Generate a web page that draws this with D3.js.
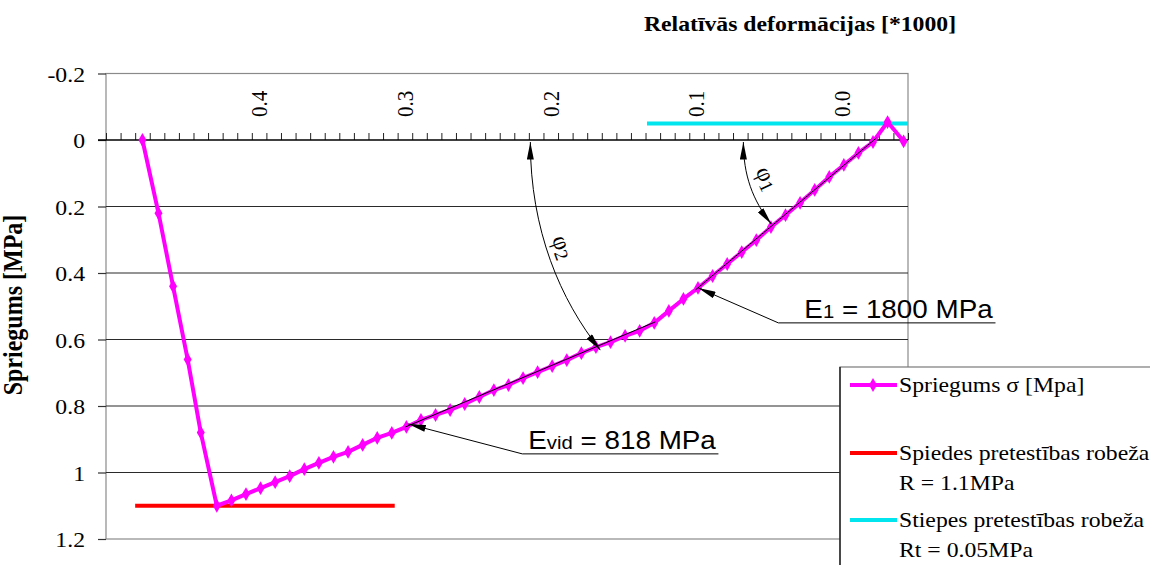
<!DOCTYPE html>
<html>
<head>
<meta charset="utf-8">
<script src="https://cdn.jsdelivr.net/npm/d3@7"></script>
<style>
    body { margin: 0; background: #ffffff; }
    #chart { width: 1150px; height: 565px; }
</style>
</head>
<body>
<div id="chart"></div>
<script>

// measured stress-strain curve (strain in 1/1000, stress in MPa, compression positive)
const strainValues = [
    0.480, 0.469, 0.459, 0.449, 0.440, 0.429, 0.419, 0.409, 0.399, 0.389,
    0.379, 0.369, 0.359, 0.349, 0.339, 0.329, 0.319, 0.309, 0.299, 0.289,
    0.279, 0.269, 0.259, 0.249, 0.239, 0.229, 0.219, 0.209, 0.199, 0.189,
    0.179, 0.169, 0.159, 0.149, 0.139, 0.129, 0.119, 0.109, 0.099, 0.089,
    0.079, 0.069, 0.059, 0.049, 0.039, 0.029, 0.019, 0.009, -0.001, -0.011,
    -0.021, -0.031, -0.042
];
const stressValues = [
    0.00, 0.22, 0.44, 0.66, 0.88, 1.10, 1.084, 1.065, 1.047, 1.029,
    1.011, 0.990, 0.971, 0.953, 0.938, 0.917, 0.896, 0.881, 0.863, 0.842,
    0.827, 0.812, 0.794, 0.773, 0.752, 0.737, 0.716, 0.698, 0.680, 0.662,
    0.641, 0.623, 0.608, 0.589, 0.574, 0.550, 0.514, 0.478, 0.445, 0.409,
    0.373, 0.337, 0.301, 0.262, 0.226, 0.189, 0.150, 0.111, 0.075, 0.039,
    0.006, -0.054, 0.004
];

// strength limits
const compressionLimit = 1.1;
const compressionStrain = [0.485, 0.307];
const tensionLimit = -0.05;
const tensionStrain = [0.134, -0.045];

// axes
const xDomain = [0.505, -0.045];
const yDomain = [-0.2, 1.2];
const xLabelValues = [0.4, 0.3, 0.2, 0.1, 0.0];
const xLabelTexts = ['0.4', '0.3', '0.2', '0.1', '0.0'];
const yTickValues = [-0.2, 0, 0.2, 0.4, 0.6, 0.8, 1, 1.2];
const yTickTexts = ['-0.2', '0', '0.2', '0.4', '0.6', '0.8', '1', '1.2'];
const yGridValues = [0.2, 0.4, 0.6, 0.8, 1];

// annotations, in data units [strain, stress]
const e1Tangent = [[0.1008, 0.451], [-0.0233, -0.006]];
const eVidTangent = [[0.2997, 0.863], [0.1283, 0.547]];
const e1Leader = [[-0.105, 0.550], [0.0439, 0.550], [0.0988, 0.445]];
const eVidLeader = [[0.085, 0.944], [0.2195, 0.944], [0.2977, 0.854]];
const phi1Arc = [[0.0679, 0.006], [0.0679, 0.105], [0.0617, 0.180], [0.0487, 0.253]];
const phi2Arc = [[0.214, 0.006], [0.214, 0.271], [0.1934, 0.481], [0.166, 0.632]];

const legendNames = [
    ['Spriegums σ [Mpa]'],
    ['Spiedes pretestības robeža', 'R = 1.1MPa'],
    ['Stiepes pretestības robeža', 'Rt = 0.05MPa']
];
const legendColors = ['#ff00ff', '#ff0000', '#00e5ee'];

const serif = "'Liberation Serif', 'Times New Roman', serif";
const sans = "'Liberation Sans', Arial, sans-serif";
const stretch = 1.13;

const plot = { left: 106, top: 73.5, right: 908, bottom: 539 };

function createSVG(containerId, width, height) {

    try {

        let svg = d3.select(containerId)
            .append('svg')
            .attr('width', width)
            .attr('height', height)
            .attr('viewBox', '0 0 ' + width + ' ' + height);
        return svg;

    } catch (error) {

        console.log('Function: createSVG. Error: ' + error);
        return null;
    }
}

function addText(g, x, y, txt, size, opts) {

    opts = opts || {};
    let sx = opts.stretch || stretch;
    let t = g.append('text')
        .attr('transform', 'translate(' + x + ',' + y + ') scale(' + sx + ',1)')
        .attr('font-family', opts.family || serif)
        .attr('font-size', size)
        .attr('font-weight', opts.bold ? 'bold' : 'normal')
        .attr('text-anchor', opts.anchor || 'start')
        .attr('dominant-baseline', opts.baseline || 'auto')
        .attr('fill', '#000');
    if (txt !== null) t.text(txt);
    return t;
}

function drawChart(svg) {

    try {

        let x = d3.scaleLinear().domain(xDomain).range([plot.left, plot.right]);
        let y = d3.scaleLinear().domain(yDomain).range([plot.top, plot.bottom]);

        let defs = svg.append('defs');
        defs.append('marker')
            .attr('id', 'arrow')
            .attr('viewBox', '0 0 20 8')
            .attr('refX', 20).attr('refY', 4)
            .attr('markerWidth', 18).attr('markerHeight', 7)
            .attr('markerUnits', 'userSpaceOnUse')
            .attr('orient', 'auto-start-reverse')
            .append('path').attr('d', 'M0,0 L20,4 L0,8 Z').attr('fill', '#000');

        // plot frame
        svg.append('rect')
            .attr('x', plot.left).attr('y', plot.top)
            .attr('width', plot.right - plot.left).attr('height', plot.bottom - plot.top)
            .attr('fill', 'none').attr('stroke', '#8a8a8a').attr('stroke-width', 1.2);

        // gridlines
        svg.append('g').selectAll('line')
            .data(yGridValues).enter()
            .append('line')
            .attr('x1', plot.left).attr('x2', plot.right)
            .attr('y1', d => y(d)).attr('y2', d => y(d))
            .attr('stroke', '#2a2a2a').attr('stroke-width', 1.2);

        // y axis ticks + labels
        let yAxis = d3.axisLeft(y).tickValues(yTickValues).tickSize(8).tickFormat('');
        let gy = svg.append('g').attr('transform', 'translate(' + plot.left + ',0)').call(yAxis);
        gy.select('.domain').remove();
        gy.selectAll('.tick line').attr('stroke', '#333').attr('stroke-width', 1.2);
        yTickValues.forEach((v, i) => {
            addText(svg, 85, y(v) + 1, yTickTexts[i], 21, { anchor: 'end', baseline: 'central' });
        });

        // x axis on stress = 0, ticks upward
        let xAxis = d3.axisTop(x).tickValues(d3.range(-0.045, 0.51, 0.01)).tickSize(7).tickFormat('');
        let gx = svg.append('g').attr('transform', 'translate(0,' + y(0) + ')').call(xAxis);
        gx.select('.domain').remove();
        gx.selectAll('.tick line').attr('stroke', '#222').attr('stroke-width', 1);
        svg.append('line')
            .attr('x1', 98).attr('x2', plot.right)
            .attr('y1', y(0)).attr('y2', y(0))
            .attr('stroke', '#000').attr('stroke-width', 1.3);
        xLabelValues.forEach((v, i) => {
            svg.append('text')
                .attr('transform', 'translate(' + x(v) + ',104) scale(1.1,1) rotate(-90)')
                .attr('font-family', serif).attr('font-size', 21)
                .attr('text-anchor', 'middle').attr('dominant-baseline', 'central')
                .text(xLabelTexts[i]);
        });

        // axis titles
        addText(svg, 800, 31, 'Relatīvās deformācijas [*1000]', 21, { anchor: 'middle', bold: true });
        svg.append('text')
            .attr('transform', 'translate(22,305) scale(1.1,1) rotate(-90)')
            .attr('font-family', serif).attr('font-size', 24).attr('font-weight', 'bold')
            .attr('text-anchor', 'middle')
            .text('Spriegums [MPa]');

        // limit lines
        svg.append('line')
            .attr('x1', x(compressionStrain[0])).attr('x2', x(compressionStrain[1]))
            .attr('y1', y(compressionLimit)).attr('y2', y(compressionLimit))
            .attr('stroke', legendColors[1]).attr('stroke-width', 4);
        svg.append('line')
            .attr('x1', x(tensionStrain[0])).attr('x2', x(tensionStrain[1]))
            .attr('y1', y(tensionLimit)).attr('y2', y(tensionLimit))
            .attr('stroke', legendColors[2]).attr('stroke-width', 4);

        // stress-strain curve
        let pts = strainValues.map((s, i) => [s, stressValues[i]]);
        let line = d3.line().x(d => x(d[0])).y(d => y(d[1]));
        svg.append('path')
            .attr('d', line(pts))
            .attr('fill', 'none').attr('stroke', legendColors[0]).attr('stroke-width', 4)
            .attr('stroke-linejoin', 'round');
        svg.append('g').selectAll('path')
            .data(pts).enter()
            .append('path')
            .attr('d', d3.symbol().type(d3.symbolDiamond).size(55))
            .attr('transform', d => 'translate(' + x(d[0]) + ',' + y(d[1]) + ')')
            .attr('fill', legendColors[0]);

        // tangent lines
        [e1Tangent, eVidTangent].forEach(t => {
            svg.append('path').attr('d', line(t))
                .attr('fill', 'none').attr('stroke', '#000').attr('stroke-width', 1);
        });

        // leader lines with arrows
        [e1Leader, eVidLeader].forEach(t => {
            svg.append('path').attr('d', line(t))
                .attr('fill', 'none').attr('stroke', '#000').attr('stroke-width', 1)
                .attr('marker-end', 'url(#arrow)');
        });

        let t1 = addText(svg, x(e1Leader[1][0]) + 26, y(e1Leader[1][1]) - 5, null, 26, { family: sans, stretch: 1.07 });
        t1.append('tspan').text('E');
        t1.append('tspan').attr('font-size', 19).text('1');
        t1.append('tspan').text(' = 1800 MPa');

        let t2 = addText(svg, x(eVidLeader[1][0]) + 6, y(eVidLeader[1][1]) - 5, null, 26, { family: sans, stretch: 1.07 });
        t2.append('tspan').text('E');
        t2.append('tspan').attr('font-size', 19).text('vid');
        t2.append('tspan').text(' = 818 MPa');

        // angle arcs
        [phi1Arc, phi2Arc].forEach(a => {
            let p = a.map(d => [x(d[0]), y(d[1])]);
            svg.append('path')
                .attr('d', 'M' + p[0] + ' C' + p[1] + ' ' + p[2] + ' ' + p[3])
                .attr('fill', 'none').attr('stroke', '#000').attr('stroke-width', 1)
                .attr('marker-start', 'url(#arrow)').attr('marker-end', 'url(#arrow)');
        });

        let f1 = svg.append('text')
            .attr('transform', 'translate(' + x(0.0514) + ',' + y(0.115) + ') rotate(65)')
            .attr('font-family', serif).attr('font-size', 24)
            .attr('text-anchor', 'middle').attr('dominant-baseline', 'central');
        f1.append('tspan').text('φ');
        f1.append('tspan').attr('font-size', 19).attr('dy', 4).text('1');

        let f2 = svg.append('text')
            .attr('transform', 'translate(' + x(0.1914) + ',' + y(0.322) + ') rotate(70)')
            .attr('font-family', serif).attr('font-size', 24)
            .attr('text-anchor', 'middle').attr('dominant-baseline', 'central');
        f2.append('tspan').text('φ');
        f2.append('tspan').attr('font-size', 19).attr('dy', 4).text('2');

        return { x: x, y: y };

    } catch (error) {

        console.log('Function: drawChart. Error: ' + error);
        return null;
    }
}

function drawLegend(svg) {

    try {

        let lg = svg.append('g');
        lg.append('rect')
            .attr('x', 840).attr('y', 367).attr('width', 330).attr('height', 220)
            .attr('fill', '#fff').attr('stroke', '#7a7a7a').attr('stroke-width', 1.2);
        lg.append('line')
            .attr('x1', 840).attr('x2', 840).attr('y1', 367).attr('y2', 565)
            .attr('stroke', '#111').attr('stroke-width', 1.3);

        let rowsY = [385, 453, 520];
        legendNames.forEach((names, i) => {
            lg.append('line')
                .attr('x1', 850).attr('x2', 897)
                .attr('y1', rowsY[i]).attr('y2', rowsY[i])
                .attr('stroke', legendColors[i]).attr('stroke-width', 4);
            if (i === 0) {
                lg.append('path')
                    .attr('d', d3.symbol().type(d3.symbolDiamond).size(55))
                    .attr('transform', 'translate(873,' + rowsY[i] + ')')
                    .attr('fill', legendColors[i]);
            }
            names.forEach((n, j) => {
                addText(lg, 899, rowsY[i] + 7 + j * 30, n, 21);
            });
        });

    } catch (error) {

        console.log('Function: drawLegend. Error: ' + error);
    }
}

let svg = createSVG('#chart', 1150, 565);
drawChart(svg);
drawLegend(svg);

</script>
</body>
</html>
